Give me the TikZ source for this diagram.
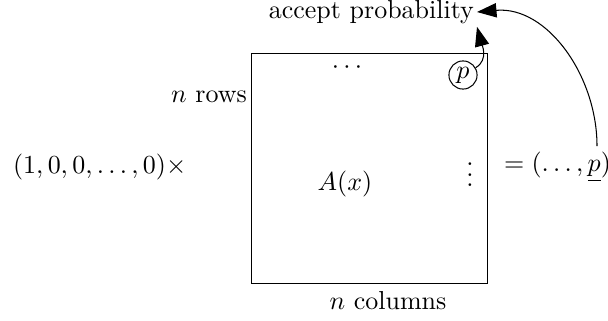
\documentclass[tikz,border=0pt]{standalone}
\usepackage{tikz}
\usetikzlibrary{arrows.meta, positioning}
\begin{document}
\begin{tikzpicture}[
    x=0.385pt, y=-0.385pt,
    lbl/.style={inner sep=1pt},
    arr/.style={-{Triangle[length=7.5pt, width=5.5pt]}},
]
    \useasboundingbox (0,0) rectangle (608,320);

    % Matrix
    \node[draw, minimum width=91.2pt, minimum height=88.9pt] (mat) at (369.5,168.5) {};
    \node (ax) at (345,184) {$A(x)$};
    \node (hdots) at (347,68) {$\cdots$};
    \node (vdots) at (470,167) {$\vdots$};
    \node[circle, draw, inner sep=1pt] (pc) at (463,75) {$p$};

    % Labels
    \node[lbl, anchor=east] (rows) at (250,97) {$n$ rows};
    \node (cols) at (388,301) {$n$ columns};
    \node[lbl, anchor=east] (acc) at (477,12) {accept probability};

    % Vectors
    \node[lbl, anchor=west] (vin) at (10,167) {$(1,0,0,\ldots,0)\times$};
    \node[lbl, anchor=west] (vout) at (501,167) {$=(\ldots,\underline{p})$};
    \coordinate (pout) at (597,146);

    % Arrows
    \draw[arr] (pc) to[out=30, in=-75] (acc.south east);
    \draw[arr] (pout) to[out=90, in=5] (acc.east);
\end{tikzpicture}
\end{document}
